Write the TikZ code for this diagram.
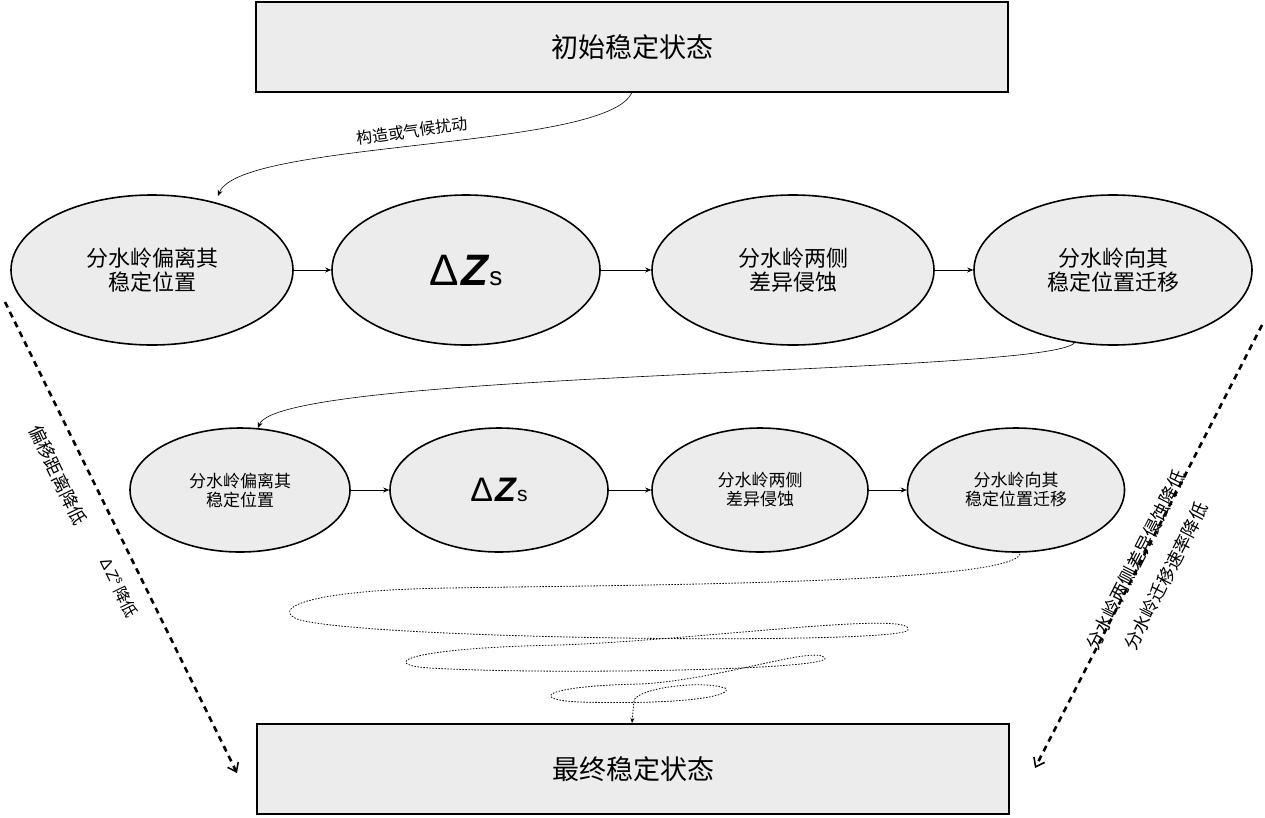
\documentclass[tikz,border=0pt]{standalone}
\usepackage{fontspec}
\setmainfont{Noto Sans CJK SC}
\setsansfont{Liberation Sans}
\usetikzlibrary{arrows.meta,shapes.geometric}
\begin{document}
\begin{tikzpicture}[x=1pt,y=-1pt,
  box/.style={draw,line width=1.6pt,fill=gray!15,minimum width=752pt,minimum height=90pt,font=\fontsize{27}{30}\selectfont},
  bigell/.style={ellipse,draw,line width=1.6pt,fill=gray!15,minimum height=150pt,inner sep=0pt,align=center,font=\fontsize{22}{24}\selectfont},
  smell/.style={ellipse,draw,line width=1.6pt,fill=gray!15,minimum height=124pt,inner sep=0pt,align=center,font=\fontsize{17}{19}\selectfont},
  conn/.style={-{Stealth[length=6pt,width=5pt]},line width=0.6pt},
  dashar/.style={line width=2.6pt,dash pattern=on 6pt off 5pt,-{Straight Barb[length=8pt,width=12pt,line width=1.6pt]}},
  dotl/.style={line width=0.8pt,dash pattern=on 1.5pt off 1.5pt}]
\useasboundingbox (0,0) rectangle (1265,817);
\node[box] (top) at (632,47) {初始稳定状态};
\node[box] (bot) at (633,769) {最终稳定状态};
\node[bigell,minimum width=282pt] (a1) at (152,270) {分水岭偏离其\\稳定位置};
\node[bigell,minimum width=268pt] (a2) at (466,270) {\sffamily\fontsize{44}{44}\selectfont Δ\kern2pt\textbf{\textit{Z}}\fontsize{26}{26}\selectfont s};
\node[bigell,minimum width=282pt] (a3) at (793,270) {分水岭两侧\\差异侵蚀};
\node[bigell,minimum width=278pt] (a4) at (1113,270) {分水岭向其\\稳定位置迁移};
\node[smell,minimum width=220pt] (b1) at (240,490) {分水岭偏离其\\稳定位置};
\node[smell,minimum width=218pt] (b2) at (499,490) {\sffamily\fontsize{34}{34}\selectfont Δ\kern2pt\textbf{\textit{Z}}\fontsize{21}{21}\selectfont s};
\node[smell,minimum width=216pt] (b3) at (760,490) {分水岭两侧\\差异侵蚀};
\node[smell,minimum width=217pt] (b4) at (1016,490) {分水岭向其\\稳定位置迁移};
\draw[conn] (a1) -- (a2);
\draw[conn] (a2) -- (a3);
\draw[conn] (a3) -- (a4);
\draw[conn] (b1) -- (b2);
\draw[conn] (b2) -- (b3);
\draw[conn] (b3) -- (b4);
\coordinate (t1) at (632,92);
\coordinate (e1) at (218,196);
\draw[conn] (t1) .. controls (610,150) and (240,140) .. (e1);
\node[rotate=8,font=\fontsize{16}{18}\selectfont] (lab1) at (412,131) {构造或气候扰动};
\coordinate (t2) at (1075,342);
\coordinate (e2) at (258,428);
\draw[conn] (t2) .. controls (1060,375) and (280,370) .. (e2);
\coordinate (s0) at (1020,554);
\coordinate (s1) at (632,723);
\draw[dotl,-{Stealth[length=5pt,width=4pt]}] (s0) .. controls (1010,585) and (600,585) .. (450,588)
  .. controls (300,590) and (270,610) .. (300,620)
  .. controls (380,640) and (900,645) .. (908,630)
  .. controls (915,610) and (700,640) .. (560,645)
  .. controls (400,648) and (380,665) .. (430,668)
  .. controls (550,675) and (830,670) .. (825,658)
  .. controls (815,645) and (720,680) .. (640,684)
  .. controls (540,686) and (530,700) .. (580,702)
  .. controls (690,705) and (735,695) .. (725,688)
  .. controls (700,680) and (640,688) .. (634,700)
  -- (s1);
\coordinate (l0) at (5,302);
\coordinate (l1) at (237,773);
\draw[dashar] (l0) -- (l1);
\node[rotate=-64,font=\fontsize{18}{20}\selectfont] (ll1) at (58,475) {偏移距离降低};
\node[rotate=-64,font=\fontsize{16}{18}\selectfont] (ll2) at (119,588) {\sffamily Δ\,Z\textsuperscript{s}\,\rmfamily 降低};
\coordinate (r0) at (1262,325);
\coordinate (r1) at (1035,768);
\draw[dashar] (r0) -- (r1);
\node[rotate=63,font=\fontsize{18}{20}\selectfont] (rl1) at (1136,560) {分水岭两侧差异侵蚀降低};
\node[rotate=63,font=\fontsize{18}{20}\selectfont] (rl2) at (1166,576) {分水岭迁移速率降低};
\end{tikzpicture}
\end{document}
